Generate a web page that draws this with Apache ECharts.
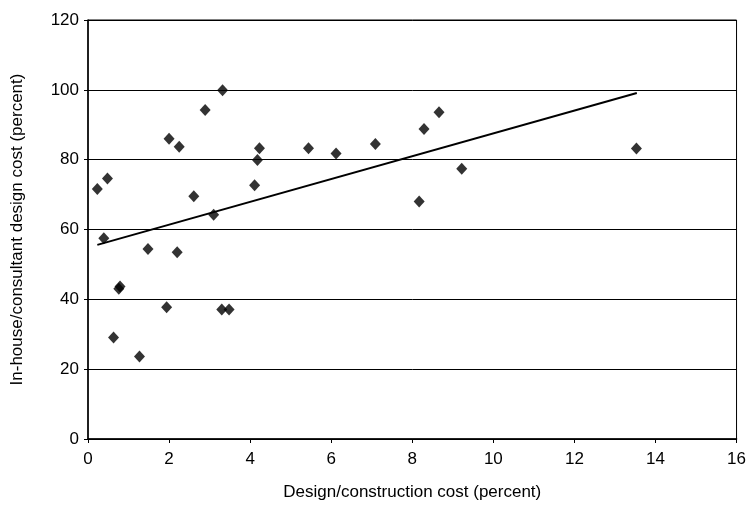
<!DOCTYPE html>
<html>
<head>
<meta charset="utf-8">
<script src="https://cdn.jsdelivr.net/npm/echarts@6/dist/echarts.min.js"></script>
<style>
html, body { margin: 0; padding: 0; background: #fff; }
#chart { width: 749px; height: 506px; }
</style>
</head>
<body>
<div id="chart"></div>
<script>
// design/construction cost (%) vs in-house/consultant design cost (%)
var designCost = [0.23, 0.48, 0.39, 0.63, 0.79, 0.76, 1.27, 1.48, 1.94, 2.0,
	2.2, 2.25, 2.61, 2.89, 3.1, 3.32, 3.30, 3.48, 4.11, 4.18,
	4.23, 5.44, 6.12, 7.09, 8.17, 8.29, 8.66, 9.22, 13.53];
var inHouseCost = [71.6, 74.6, 57.5, 29.1, 43.7, 43.0, 23.6, 54.4, 37.7, 86.0,
	53.5, 83.7, 69.5, 94.2, 64.2, 99.9, 37.1, 37.1, 72.7, 79.9,
	83.3, 83.3, 81.8, 84.5, 68.0, 88.8, 93.6, 77.4, 83.2];
// trend line end points
var trendX = [0.23, 13.54];
var trendY = [55.6, 99.1];

var xTicks = [0, 2, 4, 6, 8, 10, 12, 14, 16];
var yTicks = [0, 20, 40, 60, 80, 100, 120];

var points = designCost.map(function (x, i) { return [x, inHouseCost[i]]; });
var trend = trendX.map(function (x, i) { return [x, trendY[i]]; });

var font = 'Liberation Sans, Arial, sans-serif';
var myChart = echarts.init(document.getElementById('chart'), null, { renderer: 'canvas' });

var option = {
	backgroundColor: '#fff',
	animation: false,
	grid: {
		left: 88, right: 10, top: 20, bottom: 65,
		show: true, borderColor: '#000', borderWidth: 1
	},
	xAxis: {
		type: 'value',
		min: xTicks[0], max: xTicks[xTicks.length - 1], interval: 2,
		name: 'Design/construction cost (percent)',
		nameLocation: 'middle', nameGap: 45,
		nameTextStyle: { fontFamily: font, fontSize: 17, color: '#000' },
		axisLine: { show: true, lineStyle: { color: '#000', width: 1.5 } },
		axisTick: { show: true, length: 4, lineStyle: { color: '#000' } },
		axisLabel: { fontFamily: font, fontSize: 17, color: '#000', margin: 12 },
		splitLine: { show: false }
	},
	yAxis: {
		type: 'value',
		min: yTicks[0], max: yTicks[yTicks.length - 1], interval: 20,
		name: 'In-house/consultant design cost (percent)',
		nameLocation: 'middle', nameGap: 62,
		nameTextStyle: { fontFamily: font, fontSize: 17, color: '#000' },
		axisLine: { show: true, lineStyle: { color: '#000', width: 1.5 } },
		axisTick: { show: true, length: 4, lineStyle: { color: '#000' } },
		axisLabel: { fontFamily: font, fontSize: 17, color: '#000', margin: 9 },
		splitLine: { show: true, lineStyle: { color: '#000', width: 1 } }
	},
	series: [
		{
			name: 'data',
			type: 'scatter',
			symbol: 'diamond',
			symbolSize: [11, 12],
			itemStyle: { color: '#000' },
			data: points
		},
		{
			name: 'trend',
			type: 'line',
			symbol: 'none',
			lineStyle: { color: '#000', width: 2 },
			data: trend
		}
	]
};
myChart.setOption(option);
</script>
</body>
</html>
